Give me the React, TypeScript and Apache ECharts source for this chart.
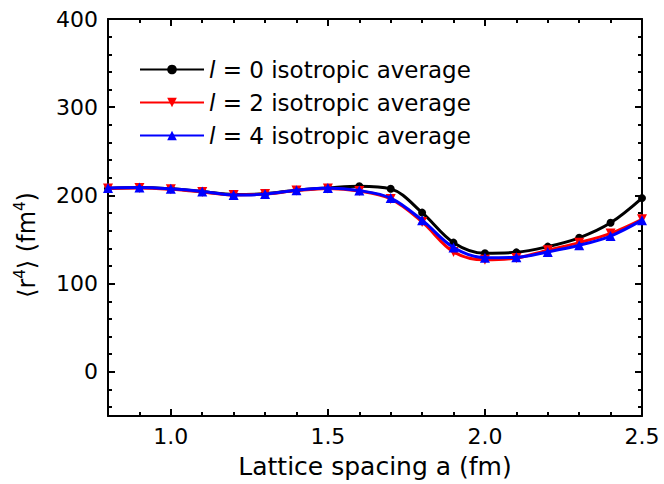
import React, { useEffect, useRef } from "react";
import * as echarts from "echarts";

const latticeSpacing = [0.8, 0.9, 1.0, 1.1, 1.2, 1.3, 1.4, 1.5, 1.6, 1.7, 1.8, 1.9, 2.0, 2.1, 2.2, 2.3, 2.4, 2.5];
const l0Values = [208, 209, 207.5, 204.5, 201, 202, 206, 208.5, 210.5, 207.5, 180.5, 146.5, 134.5, 135.5, 142, 152, 169, 197];
const l2Values = [208, 208.5, 207, 204, 200.5, 201.5, 205.5, 208, 205, 196, 170, 136, 127, 129, 138, 146.5, 157, 173];
const l4Values = [208.5, 209, 207.5, 204.5, 200.5, 201.5, 206, 208.5, 205.5, 197, 172, 141, 129.5, 130, 136, 143.5, 154, 172];
const seriesNames = ["l = 0 isotropic average", "l = 2 isotropic average", "l = 4 isotropic average"];
const xMajorTicks = [1.0, 1.5, 2.0, 2.5];
const xMinorTicks = [0.9, 1.1, 1.2, 1.3, 1.4, 1.6, 1.7, 1.8, 1.9, 2.1, 2.2, 2.3, 2.4];
const yMajorTicks = [0, 100, 200, 300, 400];
const yMinorTicks = [-40, -20, 20, 40, 60, 80, 120, 140, 160, 180, 220, 240, 260, 280, 320, 340, 360, 380];
const xAxisTitle = "Lattice spacing a (fm)";
const yAxisTitle = "⟨r{sup|4}⟩ (fm{sup|4})";

const FONT = "'DejaVu Sans', 'Liberation Sans', Arial, sans-serif";

export default function App() {
  const ref = useRef<HTMLDivElement>(null);
  useEffect(() => {
    if (!ref.current) return;
    const chart = echarts.init(ref.current, undefined, { renderer: "svg" });
    const pairs = (vals: number[]) => latticeSpacing.map((x, i) => [x, vals[i]]);
    const xBase = (position: "bottom" | "top", major: boolean, labels: boolean, name: boolean) => ({
      type: "value",
      position,
      min: 0.8,
      max: 2.5,
      interval: 0.1,
      name: name ? xAxisTitle : "",
      nameLocation: "middle",
      nameGap: 38,
      nameTextStyle: { fontFamily: FONT, fontSize: 25, color: "#000" },
      axisLine: { show: major, onZero: false, lineStyle: { color: "#000", width: 2 } },
      axisTick: {
        show: true,
        inside: true,
        length: major ? 7 : 4,
        customValues: major ? xMajorTicks : xMinorTicks,
        lineStyle: { color: "#000", width: 2 },
      },
      axisLabel: {
        show: labels,
        customValues: xMajorTicks,
        formatter: (v: number) => v.toFixed(1),
        fontFamily: FONT,
        fontSize: 22,
        color: "#000",
        margin: 9,
      },
      splitLine: { show: false },
    });
    const yBase = (position: "left" | "right", major: boolean, labels: boolean) => ({
      type: "value",
      position,
      min: -50,
      max: 400,
      axisLine: { show: major, onZero: false, lineStyle: { color: "#000", width: 2 } },
      axisTick: {
        show: true,
        inside: true,
        length: major ? 7 : 4,
        customValues: major ? yMajorTicks : yMinorTicks,
        lineStyle: { color: "#000", width: 2 },
      },
      axisLabel: {
        show: labels,
        customValues: yMajorTicks,
        fontFamily: FONT,
        fontSize: 22,
        color: "#000",
        margin: 10,
      },
      splitLine: { show: false },
    });
    const colors = ["#000000", "#ff0000", "#0000ff"];
    const symbols = ["circle", "triangle", "triangle"];
    const rotates = [0, 180, 0];
    const sizes = [8, 10, 10];
    const values = [l0Values, l2Values, l4Values];
    chart.setOption({
      animation: false,
      grid: { left: 108, right: 22, top: 19, bottom: 68 },
      legend: {
        orient: "vertical",
        left: 134,
        top: 53,
        itemWidth: 64,
        itemHeight: 12,
        itemGap: 10,
        data: seriesNames,
        formatter: (n: string) => "{i|l} = " + n.slice(4),
        textStyle: {
          fontFamily: FONT,
          fontSize: 23,
          color: "#000",
          rich: { i: { fontFamily: FONT, fontSize: 23, fontStyle: "italic", color: "#000" } },
        },
      },
      graphic: [
        {
          type: "text",
          x: 27,
          y: 245,
          rotation: Math.PI / 2,
          style: {
            text: yAxisTitle,
            align: "center",
            verticalAlign: "middle",
            fontFamily: FONT,
            fontSize: 24,
            fill: "#000",
            lineHeight: 30,
            rich: {
              sup: { fontFamily: FONT, fontSize: 15, fill: "#000", verticalAlign: "top", lineHeight: 24 },
            },
          },
        },
      ],
      xAxis: [
        xBase("bottom", true, true, true),
        xBase("bottom", false, false, false),
        xBase("top", true, false, false),
        xBase("top", false, false, false),
      ],
      yAxis: [
        yBase("left", true, true),
        yBase("left", false, false),
        yBase("right", true, false),
        yBase("right", false, false),
      ],
      series: seriesNames.map((name, i) => ({
        name,
        type: "line",
        xAxisIndex: 0,
        yAxisIndex: 0,
        data: pairs(values[i]),
        smooth: 0.35,
        symbol: symbols[i],
        symbolRotate: rotates[i],
        symbolSize: sizes[i],
        showAllSymbol: true,
        lineStyle: { color: colors[i], width: 3 },
        itemStyle: { color: colors[i] },
        z: 2 + i,
      })),
    });
    return () => chart.dispose();
  }, []);
  return <div ref={ref} style={{ position: "absolute", left: 0, top: 0, width: 664, height: 484 }} />;
}
